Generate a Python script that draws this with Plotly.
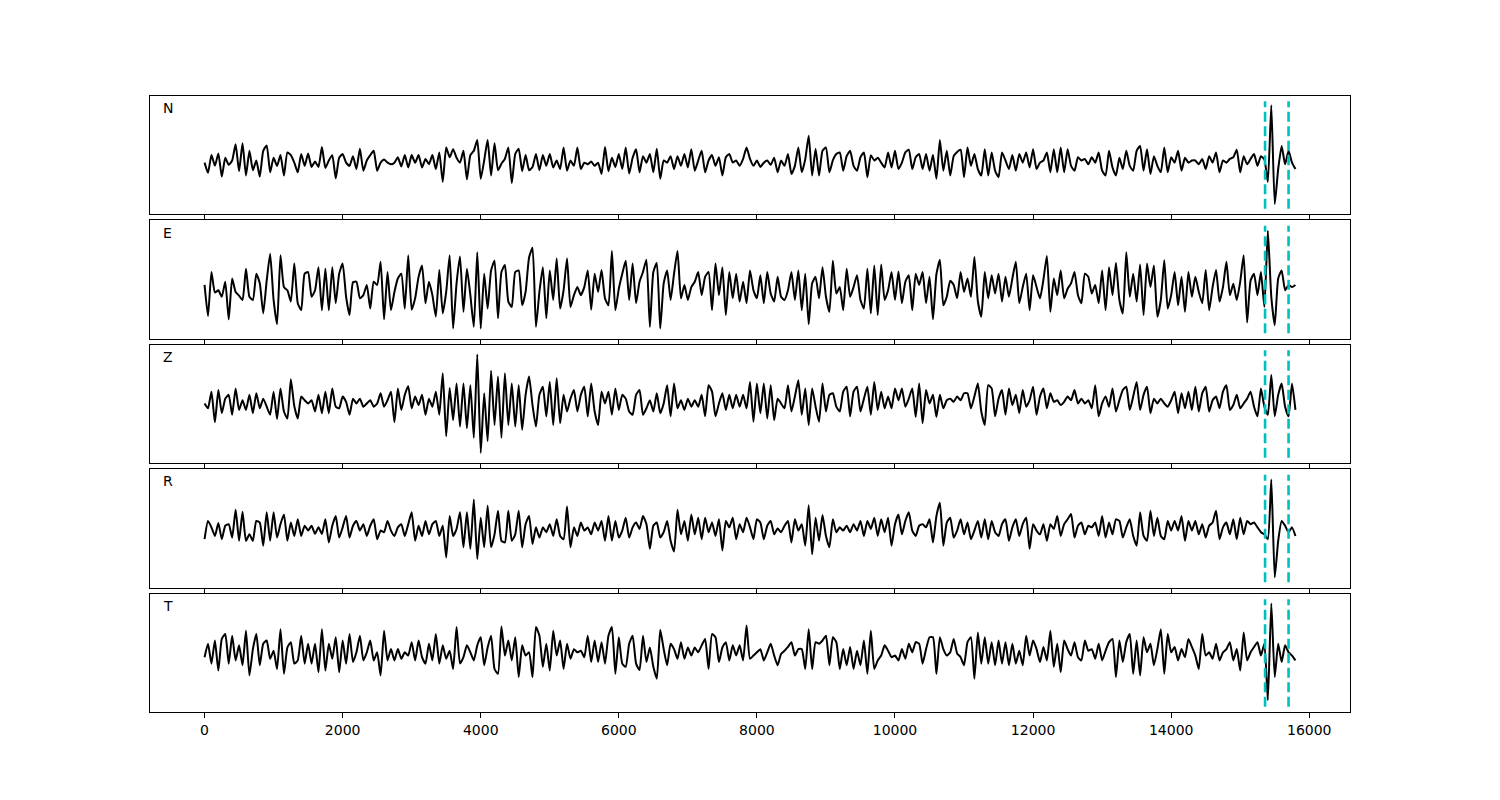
import numpy as np
import plotly.graph_objects as go
from plotly.subplots import make_subplots

# ---------------- data ----------------
COMPONENTS = ["N", "E", "Z", "R", "T"]
SAMPLE_INTERVAL = 50          # samples of the decimated traces
PICK_TIMES = [15360, 15700]   # dashed cyan markers
X_TICKS = [0, 2000, 4000, 6000, 8000, 10000, 12000, 14000, 16000]
X_TICK_TEXT = ["0", "2000", "4000", "6000", "8000", "10000", "12000", "14000", "16000"]

N_AMP = [
    -14, -33, 0, -20, 3, -40, -5, -18, -10, 20,
    -30, 22, -38, 8, -28, -10, -40, 8, 18, -32,
    -5, -20, 0, -38, 5, 0, -14, -32, 2, -20,
    3, -22, -12, -22, 15, -24, -10, 0, -43, -5,
    2, -14, -20, -2, -26, 12, -29, -10, 0, 8,
    -29, -14, -8, -14, -17, -14, -4, -21, 0, -23,
    0, -14, 0, -23, -7, -17, 0, -26, 5, -50,
    14, -4, 11, -5, -14, 8, -45, 0, 8, 28,
    -44, -10, 28, -38, 22, -28, -16, -7, 14, -52,
    2, 12, -30, 0, -28, -22, 2, -28, 0, -20,
    2, -23, -10, -26, 14, -29, -10, -20, 14, -26,
    -14, -17, -12, -20, -14, -35, 15, -30, -5, -22,
    2, -26, 14, -34, -5, 11, -32, -2, -14, 2,
    -32, 12, -44, -10, -14, -2, -26, -2, -20, 2,
    -23, 11, -29, -10, 8, -32, -10, 0, -20, -4,
    -38, -4, 2, -14, -10, -20, -7, 14, -7, -20,
    -10, -22, -14, -10, -18, -5, -32, -10, -20, 2,
    -35, -20, 14, -32, -8, 36, -38, 12, -38, 8,
    14, -32, -10, 2, 5, -29, -2, 8, -20, -29,
    -4, 5, -41, 0, -10, -5, -14, -23, 5, -23,
    8, -26, -14, 5, 10, -26, -4, 2, -26, 2,
    -29, 0, -44, 28, -29, 8, -38, -2, 6, 10,
    -41, 14, -20, 2, -26, -38, 11, -38, 5, -29,
    -41, 5, -10, -26, 0, -29, 2, -14, 5, -23,
    11, -26, -14, -10, 5, -32, 11, -32, 14, -32,
    11, -20, -29, -4, -10, -7, -17, -4, -14, 5,
    -29, -38, 8, -23, -38, -5, -26, 8, -20, -29,
    8, 17, -29, 11, -35, -2, -20, -32, 14, -32,
    -4, -14, 8, -29, -5, -14, -10, -10, -17, -7,
    -26, -2, -14, 5, -32, -10, -14, -7, -4, 10,
    -32, -2, -17, -7, 2, -20, -2, -8, -50, 93,
    -91, -26, 17, -17, 8, -14, -26,
]

E_AMP = [
    -10, -68, 14, -24, -20, -32, -4, -74, 2, -23,
    -30, -38, 20, -32, -38, 11, -7, -63, -2, 48,
    -38, -83, 45, -14, -20, -41, 30, -44, -57, 11,
    14, -32, -20, 23, -57, 20, -57, 23, -44, 11,
    30, -32, -66, -5, -4, -35, -29, -10, -54, -4,
    -10, 33, -74, 14, -57, -23, 2, 11, -54, 45,
    -56, -35, 5, 26, -44, -4, -29, -69, 18, -63,
    -23, 45, -91, -7, 43, -60, 20, -29, -88, 51,
    -91, 11, -54, 17, 35, -72, 14, 27, -41, -51,
    14, 17, -48, -23, 41, 59, -88, -23, 23, -72,
    17, -38, 39, -54, -20, 39, -51, -29, -14, -29,
    -14, 17, -56, 11, -23, 18, -35, -48, 53, -57,
    -17, 11, 35, -38, 30, -44, -4, 14, 37, -88,
    14, 31, -91, -7, 17, -38, 11, 53, -35, -10,
    -38, -14, -4, 14, -29, 5, 14, -57, 30, -29,
    23, -66, 14, -35, 11, -41, -4, -44, 17, -20,
    -35, 8, -44, 14, -26, -41, 5, -32, -38, -20,
    14, -38, 17, -57, 11, -83, -7, 5, -35, 23,
    -32, -60, 35, -26, -14, -57, 20, -32, -14, 8,
    -38, -54, 20, -63, 26, -66, 28, -38, -20, 14,
    -38, 15, -44, -4, 8, -57, 11, -10, 14, -44,
    5, -74, 10, 37, -48, -32, -2, -10, -35, 14,
    -23, 2, -32, 42, -40, -69, 14, -35, 8, -26,
    11, -41, 5, -32, 2, 33, -44, -14, 11, -57,
    8, -14, -35, 0, 44, -60, 2, -29, 17, -35,
    -17, -7, 14, -29, -44, 11, 5, -26, -10, -44,
    17, -57, 23, -29, 31, -38, -63, 51, -32, 11,
    -41, 28, -66, 30, -14, 26, -69, -38, 36, -54,
    -29, 14, -48, 5, -60, 14, -32, 5, -23, -44,
    18, -57, -14, 18, -41, -14, 33, -29, -8, -38,
    -4, 45, -80, -2, 11, -29, 14, -51, 91, -32,
    -85, 2, 17, -20, -10, -14, -10,
]

Z_AMP = [
    1, -8, 23, -34, 26, -17, 10, 17, -20, 29,
    -11, 7, -11, 17, -17, 20, -8, 10, -5, -20,
    23, -28, 29, -14, -27, 46, -4, -27, 14, 7,
    1, 7, -14, 17, -17, 23, -17, 29, -5, -8,
    14, 4, -20, 10, 1, 10, -5, 1, 7, -5,
    1, 20, -5, 7, 23, -34, 29, -11, 17, 33,
    -8, 14, -2, 17, -20, 10, -5, 23, -20, 57,
    -60, 30, -30, 38, -42, 38, -45, 35, -63, 92,
    -91, 20, -69, 62, -39, 51, -63, 57, -39, 38,
    -42, 35, -48, 17, 51, -2, -42, 17, 32, -23,
    41, -39, 48, -36, 17, -14, 10, 26, -14, 17,
    32, -23, 38, -14, -39, 23, 1, 23, -20, 29,
    -11, 17, 10, -14, -20, 17, 26, -20, -8, 7,
    -14, 20, -17, 1, 35, -23, 38, -8, 7, -11,
    10, -5, 7, -5, 17, -23, 35, 23, -23, 1,
    20, -11, 17, -8, 17, -5, 17, -8, 41, -33,
    38, -17, 38, -27, 35, -30, 10, 1, -8, 35,
    -14, 14, 44, -20, 29, -39, 29, -5, -33, 38,
    -14, 17, 20, -5, -14, 23, 32, -23, 23, 32,
    -14, 10, 32, -20, 41, -11, 23, -8, 14, -8,
    29, 7, 29, -5, 10, 29, -24, 38, -36, 26,
    1, 17, -24, 17, -8, 7, 10, 4, 14, 7,
    20, 20, -8, 14, 38, -14, -39, 35, 29, -23,
    10, 26, -20, 29, -2, 17, -17, 26, -5, 7,
    32, -20, 14, 29, -8, 20, 4, 7, -2, 4,
    14, 7, 26, 1, 10, 1, 7, -8, 35, -23,
    1, 14, -5, 29, -14, 7, 26, 32, -11, 14,
    41, -11, 17, 32, -17, 10, 1, 10, 1, -5,
    7, 23, -17, 20, -8, 23, -11, 32, -14, 20,
    32, -14, 7, 14, -8, 23, 35, -11, -2, 17,
    -8, 1, 10, 23, -5, -23, 29, -5, -20, 54,
    -23, 17, 38, -5, -23, 38, -11,
]

R_AMP = [
    -20, 14, 2, -14, 10, -20, 5, 8, -17, 35,
    -23, 31, -23, -11, -23, 14, 11, -32, 30, -23,
    30, -17, 8, 26, -23, 11, -14, 17, -14, 5,
    -4, 5, -10, 2, -10, 17, -26, 5, 23, -17,
    2, 23, -17, 5, 14, -4, 8, -14, 5, 17,
    -20, -4, -7, 14, -4, -14, 2, 8, -14, 8,
    30, -23, 5, -14, 14, -11, 8, 14, -14, 5,
    -54, 23, -14, -1, 30, -35, 30, -38, 54, -57,
    20, -35, 42, -35, -11, 33, -23, -26, 33, -23,
    -11, 33, -35, 8, 23, -29, 2, -17, 2, -7,
    8, -14, 17, -14, -20, 41, -35, 2, -14, 11,
    -4, 2, -11, 11, -4, 14, -23, 23, -23, 14,
    -17, -4, 20, -17, 2, 11, -1, 23, 8, -38,
    5, 11, -17, -7, 14, -23, -43, 35, -11, 14,
    -23, 26, -11, 20, -20, 20, -7, 11, -14, 17,
    -41, 14, 2, 20, -20, 8, -7, 20, 2, -20,
    17, 11, -20, 5, 14, -11, 0, -7, 5, 14,
    -26, 17, -4, 8, -32, 43, -48, 20, -23, 25,
    -14, -35, 17, -7, 2, -4, 5, -7, 8, -4,
    14, -14, 14, -1, 20, -14, 17, -7, 20, -32,
    8, 26, -11, 14, 30, -4, -14, 5, 8, 2,
    17, -26, 23, 48, -32, 11, 20, -17, -4, 17,
    -11, 11, -20, -4, 14, -17, 17, -20, 14, -7,
    -14, 8, 17, -23, 2, 17, -14, 8, 20, -38,
    8, -4, -11, 8, -23, 8, -1, 23, -14, 8,
    17, 27, -17, 5, 11, -11, 5, 2, 11, -14,
    23, -17, 11, -11, 17, 14, -17, 2, 17, -14,
    -32, 30, -14, -23, 33, -14, 20, -14, -20, 14,
    -4, 14, -4, 23, -23, 14, -4, 14, -11, 8,
    -17, 5, 11, 33, -20, 2, 11, -11, 17, -20,
    20, -11, 14, 8, 11, 2, -7, -11, -20, 91,
    -91, -23, 14, 5, -7, 2, -14,
]

T_AMP = [
    -8, 17, -20, 23, -33, 26, 35, -20, 32, -14,
    14, -23, 41, -42, 7, 35, -23, 17, 23, -11,
    4, -30, 44, -39, 10, 20, -20, -14, 32, -20,
    17, -20, 17, -36, 44, -33, 17, -11, 29, -36,
    23, -20, 35, -17, 1, 32, -14, 1, 23, -14,
    1, -42, 41, -14, 7, -14, 7, -11, 1, -5,
    20, -14, 23, -8, -20, 17, -14, 35, -20, 14,
    -11, 4, -30, 48, -20, -8, 14, 1, -14, 14,
    29, -23, 10, 32, -30, -39, 49, -5, 23, -14,
    29, -45, 14, -5, 1, -45, 48, 32, -26, 17,
    -33, 41, -5, 23, -30, 17, -11, 7, 1, 4,
    -8, 32, -17, 23, -17, 20, -20, 32, 48, -39,
    29, -20, -26, 17, 32, -20, -32, 32, -17, 10,
    -26, -48, 43, 7, -23, 17, 7, -11, 20, -11,
    10, -5, 10, 1, 14, 26, -30, 35, 29, -17,
    10, 20, -14, 14, -5, 14, -14, 51, -11, -5,
    1, 7, -14, 1, 17, -5, -23, -2, 4, 11,
    20, -5, 7, 7, -30, 44, -30, 20, 17, 23,
    32, -23, 29, 20, -30, 7, -23, 11, -30, 4,
    -23, 23, -39, 41, -30, -14, -5, 14, 4, -8,
    -5, -14, 7, -11, 17, 1, 20, 17, -20, 7,
    29, 29, -39, 29, 7, -5, 1, 26, -1, -8,
    -23, 20, 29, -48, 38, -20, 29, -20, 20, -23,
    23, -20, 20, -23, 17, -20, 4, -23, 32, -5,
    23, 7, -17, 11, -14, 41, -26, 17, -36, 23,
    7, -5, 20, -8, -14, 23, 4, 7, -11, 17,
    -14, 4, 20, 26, -45, 23, -17, 20, 35, -39,
    23, -42, 29, 1, 17, -23, 7, 44, -39, 35,
    1, 11, -14, 7, -8, 26, 11, -5, -30, 35,
    -5, 1, -11, 17, -14, 1, 7, 20, -14, 7,
    -33, 38, -14, 1, 11, 20, -5, 17, -88, 92,
    -45, 17, -17, 14, 1, -5, -14,
]

TRACES = [N_AMP, E_AMP, Z_AMP, R_AMP, T_AMP]
MARKER_SPAN = [-100, 100]

# ---------------- figure ----------------
fig = make_subplots(rows=5, cols=1, shared_xaxes=True, vertical_spacing=6.2 / 616)

for i, (name, amp) in enumerate(zip(COMPONENTS, TRACES)):
    row = i + 1
    t = np.arange(len(amp)) * SAMPLE_INTERVAL
    fig.add_trace(
        go.Scatter(x=t, y=amp, mode="lines",
                   line=dict(color="black", width=2, shape="spline", smoothing=0.5),
                   showlegend=False, hoverinfo="skip"),
        row=row, col=1,
    )
    for pt in PICK_TIMES:
        fig.add_shape(type="line", x0=pt, x1=pt, y0=MARKER_SPAN[0], y1=MARKER_SPAN[1],
                      line=dict(color="#00BFBF", width=2.6, dash="10px,4.5px"),
                      row=row, col=1)
    fig.add_annotation(text=name, x=0.0095, y=0.898, xref="x domain", yref="y domain",
                       xanchor="left", yanchor="middle", showarrow=False,
                       font=dict(family="DejaVu Sans", size=14, color="black"),
                       row=row, col=1)

fig.update_xaxes(range=[-790, 16590], tickvals=X_TICKS, ticktext=X_TICK_TEXT,
                 ticks="outside", ticklen=5, tickwidth=1, tickcolor="black",
                 showline=True, linecolor="black", linewidth=1, mirror=True,
                 showgrid=False, zeroline=False,
                 tickfont=dict(family="DejaVu Sans", size=14, color="black"))
fig.update_yaxes(range=[-110, 110], showticklabels=False, ticks="",
                 showline=True, linecolor="black", linewidth=1, mirror=True,
                 showgrid=False, zeroline=False)

fig.update_layout(width=1500, height=800,
                  margin=dict(l=150, r=150, t=96, b=88),
                  paper_bgcolor="white", plot_bgcolor="white",
                  showlegend=False)

fig.write_html("out.html",
               config={"displayModeBar": False},
               post_script="document.body.style.margin='0';document.body.style.overflow='hidden';")
